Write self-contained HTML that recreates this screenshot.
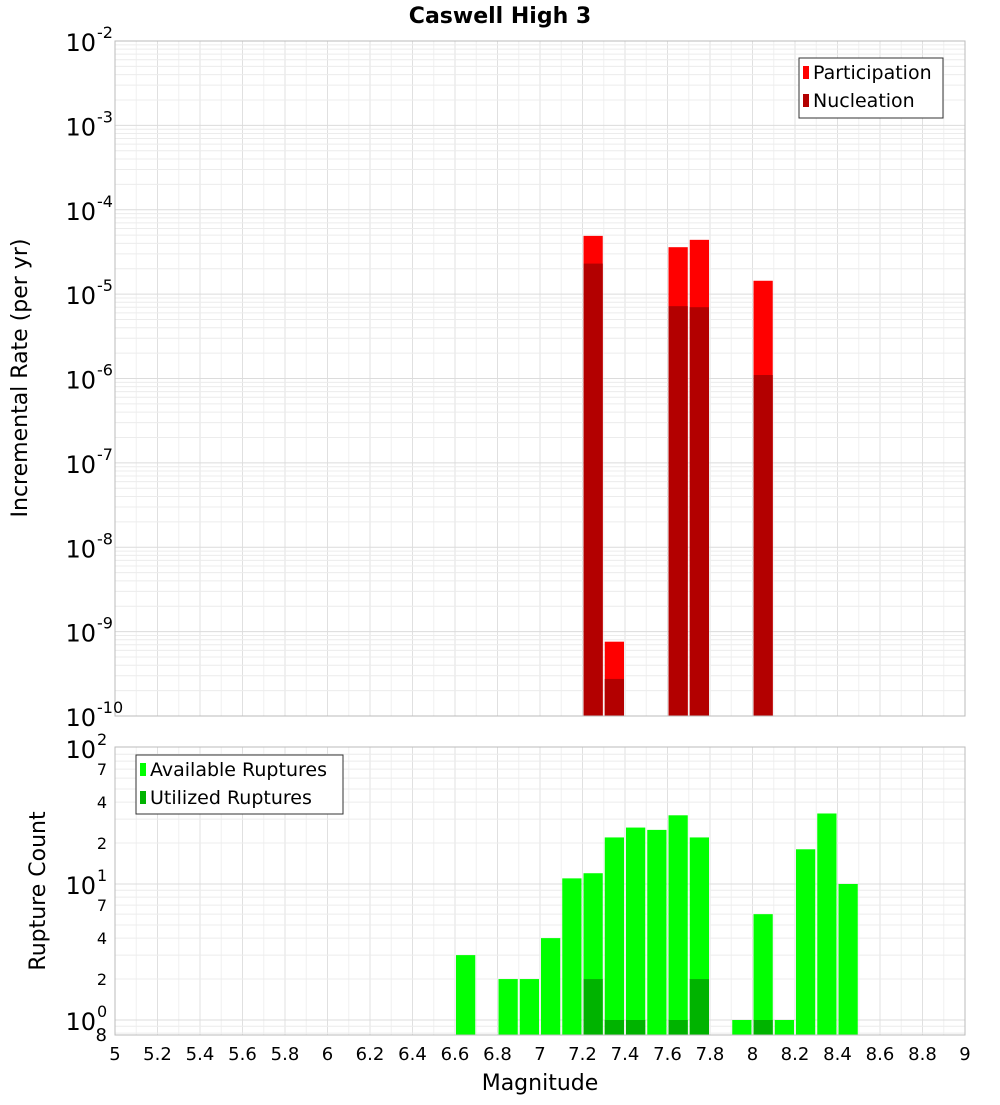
<!DOCTYPE html>
<html><head><meta charset="utf-8"><style>
body{margin:0;background:#fff;font-family:"Liberation Sans","DejaVu Sans",sans-serif}
svg text{font-family:"DejaVu Sans","Liberation Sans",sans-serif}
</style></head><body>
<svg id="c" width="1000" height="1100" xmlns="http://www.w3.org/2000/svg"></svg>
<script>
const bins=[6.65,6.85,6.95,7.05,7.15,7.25,7.35,7.45,7.55,7.65,7.75,7.95,8.05,8.15,8.25,8.35,8.45];
const available=[3,2,2,4,11,12,22,26,25,32,22,1,6,1,18,33,10];
const utilized=[0,0,0,0,0,2,1,1,0,1,2,0,1,0,0,0,0];
const rateBins=[7.25,7.35,7.65,7.75,8.05];
const participation=[4.9e-5,7.6e-10,3.6e-5,4.4e-5,1.44e-5];
const nucleation=[2.3e-5,2.75e-10,7.2e-6,7e-6,1.1e-6];
const xTicks=[5,5.2,5.4,5.6,5.8,6,6.2,6.4,6.6,6.8,7,7.2,7.4,7.6,7.8,8,8.2,8.4,8.6,8.8,9];
const topExps=[-2,-3,-4,-5,-6,-7,-8,-9,-10];
const botMinorLabels=[2,4,7,20,40,70];

const svg=document.getElementById('c');const NS='http://www.w3.org/2000/svg';
function el(t,a,p){const e=document.createElementNS(NS,t);for(const k in a)e.setAttribute(k,a[k]);(p||svg).appendChild(e);return e;}
const X0=115,X1=965;
const xs=v=>X0+(v-5)/4*(X1-X0);
const T0=41,T1=716;
const ty=v=>T0+(-2-Math.log10(v))/8*(T1-T0);
const B0=747,B1=1035;
const by=v=>1020-Math.log10(v)*136;

function grid(y0,y1,yfn,lo,hi){
  const g=el('g',{});
  
  for(let v=5;v<=9.001;v+=0.1){const x=xs(v);el('line',{x1:x,x2:x,y1:y0,y2:y1,stroke:Math.abs(v*5-Math.round(v*5))<0.01?'#e0e0e0':'#f0f0f0','stroke-width':1},g);}
  for(let e=lo;e<hi;e++)for(let m=1;m<10;m++){const y=yfn(m*Math.pow(10,e));if(y<y0||y>y1)continue;el('line',{x1:X0,x2:X1,y1:y,y2:y,stroke:m==1?'#dcdcdc':'#ececec','stroke-width':1},g);}
}
// title
let t=el('text',{x:500,y:23,'text-anchor':'middle','font-size':22,'font-weight':'bold'});t.textContent='Caswell High 3';

// top plot
let r=el('rect',{x:X0,y:T0,width:X1-X0,height:T1-T0,fill:'#fff'});

grid(T0,T1,ty,-10,-2);
rateBins.forEach((b,i)=>{
  const x=xs(b-0.05)+1,w=xs(b+0.05)-xs(b-0.05)-2;
  let p=el('rect',{x:x,y:ty(participation[i]),width:w,height:T1-ty(participation[i]),fill:'#ff0000'});
  
  let n=el('rect',{x:x,y:ty(nucleation[i]),width:w,height:T1-ty(nucleation[i]),fill:'#b30000'});
  
});
el('rect',{x:X0,y:T0,width:X1-X0,height:T1-T0,fill:'none',stroke:'#bbb'});
topExps.forEach(e=>{const y=ty(Math.pow(10,e));
  let tx=el('text',{x:96,y:y+10,'text-anchor':'end','font-size':24});tx.textContent='10';
  
  let s=el('text',{x:97,y:y-3,'font-size':16});s.textContent=String(e);
  
});
t=el('text',{x:0,y:0,transform:'translate(27,378) rotate(-90)','text-anchor':'middle','font-size':22});t.textContent='Incremental Rate (per yr)';

// top legend
let lg=el('g',{});
el('rect',{x:799,y:58,width:144,height:60,fill:'#fff',stroke:'#333'},lg);
el('rect',{x:803,y:66,width:6,height:13,fill:'#ff0000'},lg);
el('rect',{x:803,y:94,width:6,height:13,fill:'#b30000'},lg);
t=el('text',{x:813,y:79,'font-size':19},lg);t.textContent='Participation';

t=el('text',{x:813,y:107,'font-size':19},lg);t.textContent='Nucleation';

// bottom plot
r=el('rect',{x:X0,y:B0,width:X1-X0,height:B1-B0,fill:'#fff'});

grid(B0,B1,by,-1,2);
bins.forEach((b,i)=>{
  const x=xs(b-0.05)+1,w=xs(b+0.05)-xs(b-0.05)-2;
  let a=el('rect',{x:x,y:by(available[i]),width:w,height:B1-by(available[i]),fill:'#00ff00'});
  
  if(utilized[i]>0){let u=el('rect',{x:x,y:by(utilized[i]),width:w,height:B1-by(utilized[i]),fill:'#00b300'});
  }
});
el('rect',{x:X0,y:B0,width:X1-X0,height:B1-B0,fill:'none',stroke:'#bbb'});
[0,1,2].forEach(e=>{const y=by(Math.pow(10,e));
  let tx=el('text',{x:96,y:y+10,'text-anchor':'end','font-size':24});tx.textContent='10';
  
  let s=el('text',{x:97,y:y-3,'font-size':16});s.textContent=String(e);
  
});
botMinorLabels.forEach(v=>{const y=by(v);
  let tx=el('text',{x:107,y:y+6,'text-anchor':'end','font-size':16});tx.textContent=String(String(v)[0]);
  });
t=el('text',{x:107,y:1041,'text-anchor':'end','font-size':18});t.textContent='8';

t=el('text',{x:0,y:0,transform:'translate(45,891) rotate(-90)','text-anchor':'middle','font-size':22});t.textContent='Rupture Count';

// bottom legend
lg=el('g',{});
el('rect',{x:136,y:755,width:207,height:59,fill:'#fff',stroke:'#333'},lg);
el('rect',{x:140,y:763,width:6,height:13,fill:'#00ff00'},lg);
el('rect',{x:140,y:791,width:6,height:13,fill:'#00b300'},lg);
t=el('text',{x:150,y:776,'font-size':19},lg);t.textContent='Available Ruptures';

t=el('text',{x:150,y:804,'font-size':19},lg);t.textContent='Utilized Ruptures';

// x ticks
xTicks.forEach(v=>{let tx=el('text',{x:xs(v),y:1060,'text-anchor':'middle','font-size':18});tx.textContent=String(v);
  });
t=el('text',{x:540,y:1090,'text-anchor':'middle','font-size':22});t.textContent='Magnitude';

</script>
</body></html>
